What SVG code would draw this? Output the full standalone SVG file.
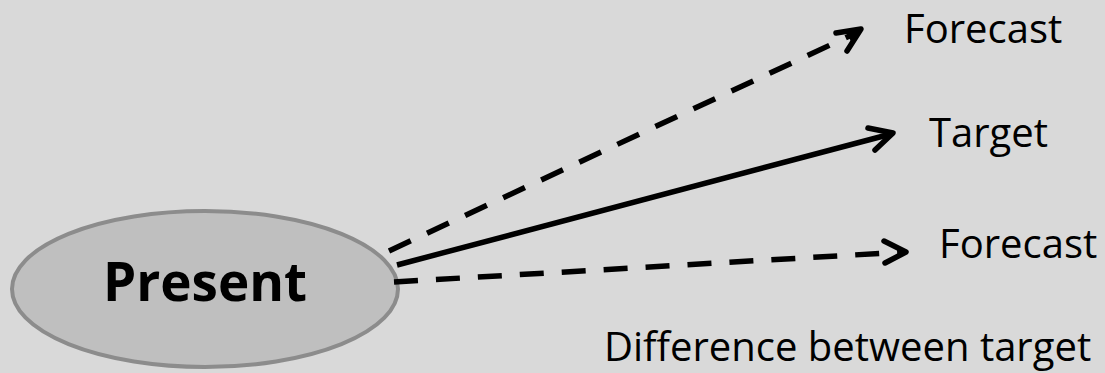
<svg xmlns="http://www.w3.org/2000/svg" width="1105" height="373" viewBox="0 0 1105 373">
<style>
.lbl{font-family:"Open Sans","Liberation Sans",sans-serif;font-size:40px;fill:#000}
.ln{fill:none;stroke:#000;stroke-width:5.5;stroke-linecap:butt}
.dash{stroke-dasharray:24 18}
.head{fill:none;stroke:#000;stroke-width:5.5;stroke-linecap:round;stroke-linejoin:round}
</style>
<rect width="1105" height="373" fill="#d9d9d9"/>
<g id="present">
<ellipse cx="205" cy="289" rx="193" ry="78" fill="#bfbfbf" stroke="#8c8c8c" stroke-width="4"/>
<text x="205" y="301" text-anchor="middle" style="font-family:'Open Sans','Liberation Sans',sans-serif;font-weight:bold;font-size:53px">Present</text>
</g>
<g id="connectors">
<line class="ln dash" x1="389" y1="251" x2="858" y2="32"/>
<polyline class="head" points="836,33 861,29 847,51"/>
<polygon points="845,31 861,29 852,43" fill="#000"/>
<line class="ln" x1="397" y1="265" x2="891" y2="134"/>
<polyline class="head" points="868,128 893,133 875,150"/>
<line class="ln dash" x1="394" y1="282" x2="904" y2="252"/>
<polyline class="head" points="884,241 906,252 885,263"/>
</g>
<g id="forecast-top"><text class="lbl" x="904" y="43">Forecast</text></g>
<g id="target"><text class="lbl" x="929" y="147">Target</text></g>
<g id="forecast-bottom"><text class="lbl" x="939" y="258">Forecast</text></g>
<g id="difference"><text class="lbl" x="604" y="361">Difference between target</text></g>
</svg>
